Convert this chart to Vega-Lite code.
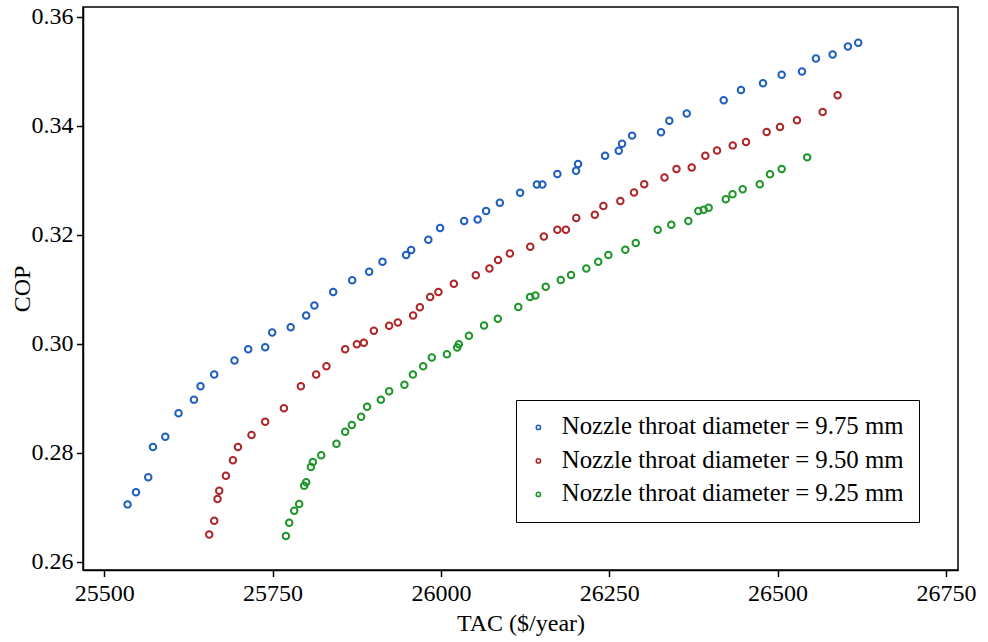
{
  "$schema": "https://vega.github.io/schema/vega-lite/v6.json",
  "width": 875,
  "height": 563,
  "autosize": {"type": "none"},
  "padding": {"left": 83, "top": 7, "right": 30, "bottom": 72},
  "background": "white",
  "config": {
    "font": "Liberation Serif",
    "view": {"stroke": "black", "strokeWidth": 1.5},
    "axis": {
      "grid": false,
      "domainColor": "black",
      "domainWidth": 1.5,
      "tickColor": "black",
      "tickWidth": 1.5,
      "tickSize": 6.5,
      "labelFont": "Liberation Serif",
      "labelFontSize": 24,
      "labelColor": "black",
      "titleFont": "Liberation Serif",
      "titleFontSize": 24,
      "titleFontWeight": "normal",
      "titleColor": "black"
    }
  },
  "data": {"values": [
    {"d":"9.75","TAC":25534.6,"COP":0.27054},
    {"d":"9.75","TAC":25547.1,"COP":0.27275},
    {"d":"9.75","TAC":25565.3,"COP":0.27550},
    {"d":"9.75","TAC":25572.3,"COP":0.28107},
    {"d":"9.75","TAC":25590.6,"COP":0.28296},
    {"d":"9.75","TAC":25610.3,"COP":0.28726},
    {"d":"9.75","TAC":25633.2,"COP":0.28976},
    {"d":"9.75","TAC":25643.0,"COP":0.29222},
    {"d":"9.75","TAC":25663.3,"COP":0.29435},
    {"d":"9.75","TAC":25693.4,"COP":0.29696},
    {"d":"9.75","TAC":25713.8,"COP":0.29902},
    {"d":"9.75","TAC":25739.0,"COP":0.29935},
    {"d":"9.75","TAC":25749.4,"COP":0.30206},
    {"d":"9.75","TAC":25776.9,"COP":0.30302},
    {"d":"9.75","TAC":25799.9,"COP":0.30519},
    {"d":"9.75","TAC":25812.1,"COP":0.30702},
    {"d":"9.75","TAC":25840.0,"COP":0.30949},
    {"d":"9.75","TAC":25868.2,"COP":0.31165},
    {"d":"9.75","TAC":25893.4,"COP":0.31321},
    {"d":"9.75","TAC":25913.2,"COP":0.31505},
    {"d":"9.75","TAC":25948.3,"COP":0.31628},
    {"d":"9.75","TAC":25955.8,"COP":0.31722},
    {"d":"9.75","TAC":25981.3,"COP":0.31909},
    {"d":"9.75","TAC":25998.8,"COP":0.32126},
    {"d":"9.75","TAC":26034.5,"COP":0.32253},
    {"d":"9.75","TAC":26054.5,"COP":0.32280},
    {"d":"9.75","TAC":26067.1,"COP":0.32436},
    {"d":"9.75","TAC":26087.5,"COP":0.32589},
    {"d":"9.75","TAC":26117.6,"COP":0.32773},
    {"d":"9.75","TAC":26142.5,"COP":0.32925},
    {"d":"9.75","TAC":26150.7,"COP":0.32925},
    {"d":"9.75","TAC":26173.0,"COP":0.33116},
    {"d":"9.75","TAC":26200.7,"COP":0.33177},
    {"d":"9.75","TAC":26203.7,"COP":0.33300},
    {"d":"9.75","TAC":26243.8,"COP":0.33452},
    {"d":"9.75","TAC":26264.1,"COP":0.33544},
    {"d":"9.75","TAC":26269.0,"COP":0.33673},
    {"d":"9.75","TAC":26283.9,"COP":0.33820},
    {"d":"9.75","TAC":26326.9,"COP":0.33880},
    {"d":"9.75","TAC":26339.2,"COP":0.34095},
    {"d":"9.75","TAC":26365.1,"COP":0.34224},
    {"d":"9.75","TAC":26420.0,"COP":0.34468},
    {"d":"9.75","TAC":26445.7,"COP":0.34655},
    {"d":"9.75","TAC":26478.4,"COP":0.34780},
    {"d":"9.75","TAC":26506.1,"COP":0.34935},
    {"d":"9.75","TAC":26536.3,"COP":0.34995},
    {"d":"9.75","TAC":26557.0,"COP":0.35234},
    {"d":"9.75","TAC":26581.8,"COP":0.35307},
    {"d":"9.75","TAC":26604.5,"COP":0.35454},
    {"d":"9.75","TAC":26619.8,"COP":0.35522},
    {"d":"9.50","TAC":25655.9,"COP":0.26503},
    {"d":"9.50","TAC":25663.3,"COP":0.26753},
    {"d":"9.50","TAC":25668.2,"COP":0.27152},
    {"d":"9.50","TAC":25670.7,"COP":0.27304},
    {"d":"9.50","TAC":25680.7,"COP":0.27580},
    {"d":"9.50","TAC":25691.1,"COP":0.27863},
    {"d":"9.50","TAC":25698.5,"COP":0.28107},
    {"d":"9.50","TAC":25718.7,"COP":0.28327},
    {"d":"9.50","TAC":25739.0,"COP":0.28572},
    {"d":"9.50","TAC":25766.8,"COP":0.28818},
    {"d":"9.50","TAC":25792.0,"COP":0.29222},
    {"d":"9.50","TAC":25814.7,"COP":0.29435},
    {"d":"9.50","TAC":25830.0,"COP":0.29589},
    {"d":"9.50","TAC":25857.8,"COP":0.29902},
    {"d":"9.50","TAC":25875.2,"COP":0.29992},
    {"d":"9.50","TAC":25885.5,"COP":0.30021},
    {"d":"9.50","TAC":25900.4,"COP":0.30238},
    {"d":"9.50","TAC":25923.1,"COP":0.30330},
    {"d":"9.50","TAC":25936.0,"COP":0.30390},
    {"d":"9.50","TAC":25958.7,"COP":0.30519},
    {"d":"9.50","TAC":25968.7,"COP":0.30673},
    {"d":"9.50","TAC":25984.0,"COP":0.30857},
    {"d":"9.50","TAC":25996.3,"COP":0.30949},
    {"d":"9.50","TAC":26019.2,"COP":0.31101},
    {"d":"9.50","TAC":26051.8,"COP":0.31257},
    {"d":"9.50","TAC":26072.0,"COP":0.31382},
    {"d":"9.50","TAC":26084.9,"COP":0.31536},
    {"d":"9.50","TAC":26102.4,"COP":0.31658},
    {"d":"9.50","TAC":26132.7,"COP":0.31781},
    {"d":"9.50","TAC":26152.9,"COP":0.31970},
    {"d":"9.50","TAC":26173.0,"COP":0.32093},
    {"d":"9.50","TAC":26185.6,"COP":0.32093},
    {"d":"9.50","TAC":26201.0,"COP":0.32308},
    {"d":"9.50","TAC":26228.6,"COP":0.32368},
    {"d":"9.50","TAC":26241.3,"COP":0.32528},
    {"d":"9.50","TAC":26266.5,"COP":0.32620},
    {"d":"9.50","TAC":26286.8,"COP":0.32776},
    {"d":"9.50","TAC":26302.0,"COP":0.32929},
    {"d":"9.50","TAC":26332.1,"COP":0.33052},
    {"d":"9.50","TAC":26349.9,"COP":0.33208},
    {"d":"9.50","TAC":26372.5,"COP":0.33237},
    {"d":"9.50","TAC":26392.7,"COP":0.33452},
    {"d":"9.50","TAC":26410.1,"COP":0.33548},
    {"d":"9.50","TAC":26433.4,"COP":0.33641},
    {"d":"9.50","TAC":26453.1,"COP":0.33704},
    {"d":"9.50","TAC":26483.8,"COP":0.33888},
    {"d":"9.50","TAC":26503.6,"COP":0.33979},
    {"d":"9.50","TAC":26528.8,"COP":0.34101},
    {"d":"9.50","TAC":26567.0,"COP":0.34255},
    {"d":"9.50","TAC":26589.2,"COP":0.34560},
    {"d":"9.25","TAC":25769.8,"COP":0.26472},
    {"d":"9.25","TAC":25774.7,"COP":0.26716},
    {"d":"9.25","TAC":25782.1,"COP":0.26937},
    {"d":"9.25","TAC":25789.5,"COP":0.27060},
    {"d":"9.25","TAC":25796.9,"COP":0.27396},
    {"d":"9.25","TAC":25799.9,"COP":0.27458},
    {"d":"9.25","TAC":25806.9,"COP":0.27740},
    {"d":"9.25","TAC":25809.8,"COP":0.27831},
    {"d":"9.25","TAC":25822.2,"COP":0.27954},
    {"d":"9.25","TAC":25844.9,"COP":0.28167},
    {"d":"9.25","TAC":25857.8,"COP":0.28388},
    {"d":"9.25","TAC":25867.7,"COP":0.28511},
    {"d":"9.25","TAC":25881.5,"COP":0.28663},
    {"d":"9.25","TAC":25890.4,"COP":0.28847},
    {"d":"9.25","TAC":25910.8,"COP":0.28976},
    {"d":"9.25","TAC":25923.1,"COP":0.29130},
    {"d":"9.25","TAC":25945.8,"COP":0.29251},
    {"d":"9.25","TAC":25958.4,"COP":0.29435},
    {"d":"9.25","TAC":25973.6,"COP":0.29589},
    {"d":"9.25","TAC":25986.5,"COP":0.29747},
    {"d":"9.25","TAC":26008.9,"COP":0.29810},
    {"d":"9.25","TAC":26024.1,"COP":0.29931},
    {"d":"9.25","TAC":26026.6,"COP":0.29993},
    {"d":"9.25","TAC":26041.6,"COP":0.30146},
    {"d":"9.25","TAC":26064.1,"COP":0.30335},
    {"d":"9.25","TAC":26084.5,"COP":0.30458},
    {"d":"9.25","TAC":26114.9,"COP":0.30675},
    {"d":"9.25","TAC":26132.4,"COP":0.30857},
    {"d":"9.25","TAC":26140.3,"COP":0.30886},
    {"d":"9.25","TAC":26155.7,"COP":0.31046},
    {"d":"9.25","TAC":26178.0,"COP":0.31169},
    {"d":"9.25","TAC":26193.3,"COP":0.31261},
    {"d":"9.25","TAC":26216.0,"COP":0.31382},
    {"d":"9.25","TAC":26233.7,"COP":0.31505},
    {"d":"9.25","TAC":26248.7,"COP":0.31630},
    {"d":"9.25","TAC":26273.9,"COP":0.31726},
    {"d":"9.25","TAC":26289.4,"COP":0.31849},
    {"d":"9.25","TAC":26322.0,"COP":0.32093},
    {"d":"9.25","TAC":26342.2,"COP":0.32185},
    {"d":"9.25","TAC":26367.5,"COP":0.32253},
    {"d":"9.25","TAC":26382.3,"COP":0.32436},
    {"d":"9.25","TAC":26390.3,"COP":0.32460},
    {"d":"9.25","TAC":26397.7,"COP":0.32497},
    {"d":"9.25","TAC":26423.1,"COP":0.32653},
    {"d":"9.25","TAC":26433.1,"COP":0.32745},
    {"d":"9.25","TAC":26448.2,"COP":0.32837},
    {"d":"9.25","TAC":26473.6,"COP":0.32929},
    {"d":"9.25","TAC":26488.7,"COP":0.33112},
    {"d":"9.25","TAC":26506.1,"COP":0.33208},
    {"d":"9.25","TAC":26544.0,"COP":0.33421}
  ]},
  "mark": {"type": "point", "shape": "circle", "filled": false, "size": 42, "strokeWidth": 2, "opacity": 1},
  "encoding": {
    "x": {
      "field": "TAC", "type": "quantitative",
      "scale": {"domain": [25468.4, 26768], "nice": false, "zero": false},
      "axis": {"values": [25500, 25750, 26000, 26250, 26500, 26750], "format": "d", "title": "TAC ($/year)", "labelPadding": 5, "titlePadding": 6, "labelFlush": false}
    },
    "y": {
      "field": "COP", "type": "quantitative",
      "scale": {"domain": [0.2585, 0.3618], "nice": false, "zero": false},
      "axis": {"values": [0.26, 0.28, 0.30, 0.32, 0.34, 0.36], "format": ".2f", "title": "COP", "labelPadding": 3.5, "titlePadding": -3, "labelFlush": false}
    },
    "color": {
      "field": "d", "type": "nominal",
      "scale": {"domain": ["9.75", "9.50", "9.25"], "range": ["#1f5fbd", "#ad2628", "#1f962b"]},
      "legend": {
        "title": null,
        "orient": "none",
        "legendX": 433,
        "legendY": 393,
        "direction": "vertical",
        "labelExpr": "'Nozzle throat diameter = ' + datum.label + ' mm'",
        "labelFont": "Liberation Serif",
        "labelFontSize": 24.8,
        "labelColor": "black",
        "labelLimit": 600,
        "labelOffset": 11,
        "symbolOffset": -5,
        "symbolType": "circle",
        "symbolSize": 18,
        "symbolStrokeWidth": 1.6,
        "symbolFillColor": "transparent",
        "padding": 15,
        "rowPadding": 7.5,
        "strokeColor": "black",
        "fillColor": "white",
        "encode": {"legend": {"update": {"strokeWidth": {"value": 1.5}}}}
      }
    }
  }
}
